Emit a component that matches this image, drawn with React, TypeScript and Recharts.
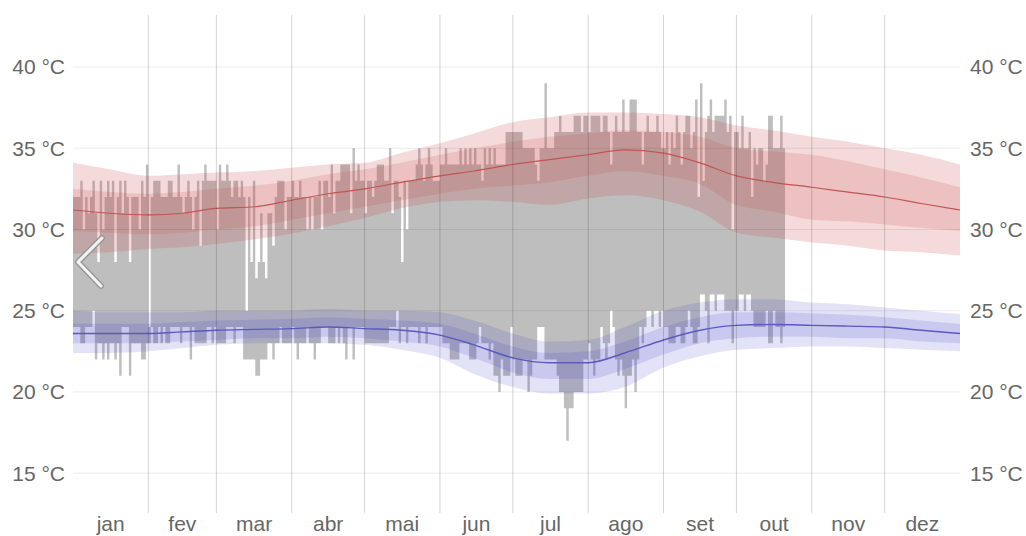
import React from 'react';
import { Area, ComposedChart, Line, ReferenceLine, XAxis, YAxis } from 'recharts';

const months = ['jan', 'fev', 'mar', 'abr', 'mai', 'jun', 'jul', 'ago', 'set', 'out', 'nov', 'dez'];
const monthMid = [15.5, 45, 74.5, 105, 135.5, 166, 196.5, 227.5, 258, 288.5, 319, 349.5];
const monthStarts = [31, 59, 90, 120, 151, 181, 212, 243, 273, 304, 334];
const tempTicks = [15, 20, 25, 30, 35, 40];

// daily observed high / low (°C), from 1 jan
const dailyHigh = [
  32, 32, 32, 33, 30, 32, 31, 32, 33, 31,
  28, 33, 30, 32, 33, 32, 33, 28, 32, 33,
  31, 33, 32, 28, 32, 32, 32, 30, 33, 32,
  34, 24, 32, 33, 33, 33, 32, 32, 32, 33,
  33, 32, 32, 34, 32, 31, 32, 33, 32, 30,
  32, 33, 29, 33, 34, 33, 33, 33, 33, 30,
  34, 33, 33, 34, 33, 32, 33, 33, 32, 33,
  32, 25, 32, 28, 33, 27, 28, 31, 28, 27,
  31, 31, 29, 32, 33, 33, 33, 30, 32, 32,
  33, 32, 32, 33, 32, 32, 30, 32, 30, 32,
  32, 33, 30, 33, 33, 32, 34, 31, 33, 33,
  34, 34, 34, 34, 31, 35, 33, 34, 33, 33,
  31, 33, 33, 32, 33, 34, 34, 34, 33, 33,
  35, 31, 33, 33, 32, 28, 33, 30, 33, 33,
  33, 34, 35, 34, 33, 34, 35, 34, 33, 33,
  33, 34, 34, 35, 34, 34, 34, 34, 34, 35,
  34, 35, 34, 35, 34, 35, 34, 34, 33, 35,
  34, 35, 34, 35, 34, 34, 34, 34, 36, 36,
  36, 36, 36, 36, 36, 35, 35, 35, 35, 35,
  34, 33, 35, 35, 39, 35, 35, 35, 36, 36,
  37, 36, 36, 36, 36, 36, 37, 37, 37, 36,
  37, 37, 36, 37, 37, 37, 37, 36, 37, 37,
  36, 34, 36, 37, 36, 36, 38, 36, 36, 38,
  38, 38, 36, 36, 34, 36, 37, 36, 36, 36,
  37, 36, 35, 35, 36, 34, 36, 35, 37, 36,
  34, 36, 37, 37, 35, 36, 38, 32, 39, 33,
  36, 37, 38, 36, 37, 37, 37, 37, 38, 36,
  37, 30, 36, 36, 35, 37, 35, 35, 36, 32,
  35, 34, 35, 35, 33, 34, 37, 37, 35, 35,
  35, 37, 35,
];

const dailyLow = [
  24, 24, 24, 23, 23, 24, 24, 24, 25, 22,
  23, 23, 22, 23, 22, 23, 23, 22, 23, 21,
  24, 24, 24, 21, 23, 23, 23, 23, 22, 22,
  23, 23, 24, 23, 23, 24, 23, 24, 23, 23,
  24, 24, 24, 24, 23, 24, 24, 24, 22, 24,
  23, 23, 23, 23, 23, 24, 24, 23, 24, 23,
  23, 23, 23, 24, 24, 24, 23, 24, 24, 24,
  22, 22, 22, 22, 22, 21, 21, 22, 22, 22,
  23, 23, 22, 23, 23, 24, 23, 23, 23, 23,
  24, 23, 22, 23, 23, 23, 24, 23, 23, 22,
  23, 23, 24, 24, 24, 23, 23, 23, 24, 23,
  24, 23, 22, 24, 24, 22, 24, 24, 24, 24,
  23, 23, 23, 23, 23, 23, 23, 23, 23, 23,
  24, 24, 24, 25, 23, 24, 24, 23, 24, 24,
  24, 24, 23, 24, 24, 23, 24, 24, 24, 24,
  24, 24, 23, 23, 23, 22, 22, 22, 22, 23,
  23, 23, 23, 22, 22, 22, 23, 24, 23, 23,
  23, 22, 23, 21, 21, 20, 22, 21, 21, 21,
  24, 22, 21, 21, 21, 22, 22, 20, 21, 22,
  22, 24, 24, 24, 22, 22, 22, 22, 22, 21,
  20, 20, 19, 17, 19, 19, 20, 20, 20, 20,
  22, 22, 23, 22, 21, 22, 22, 24, 23, 22,
  23, 25, 24, 22, 21, 22, 21, 19, 21, 21,
  22, 20, 22, 24, 23, 24, 25, 25, 24, 25,
  25, 24, 25, 24, 24, 23, 23, 23, 24, 24,
  23, 23, 24, 25, 24, 23, 23, 24, 26, 26,
  25, 23, 26, 26, 25, 26, 26, 26, 25, 25,
  25, 23, 25, 25, 26, 26, 25, 26, 26, 25,
  24, 24, 24, 24, 24, 25, 23, 23, 25, 24,
  24, 23, 24,
];

// climatology bands, sampled through the year
const bandDays = [0, 15, 31, 45, 59, 75, 90, 105, 120, 135, 151, 165, 181, 196, 212, 227, 243, 258, 273, 288, 304, 319, 334, 349, 365];
const hiP90 = [34.1, 33.7, 33.3, 33.4, 33.5, 33.6, 33.8, 34.0, 34.1, 34.7, 35.3, 35.9, 36.6, 36.9, 37.2, 37.2, 37.1, 36.9, 36.4, 36.1, 35.7, 35.4, 35.0, 34.6, 34.0];
const hiP75 = [32.5, 32.3, 32.2, 32.3, 32.5, 32.7, 33.0, 33.4, 33.7, 34.1, 34.6, 35.0, 35.4, 35.7, 35.9, 36.1, 36.0, 35.7, 35.0, 34.8, 34.6, 34.2, 33.7, 33.2, 32.6];
const hiMean = [31.2, 31.0, 30.9, 31.0, 31.3, 31.4, 31.8, 32.2, 32.5, 32.9, 33.3, 33.6, 34.0, 34.3, 34.6, 34.9, 34.7, 34.1, 33.3, 32.9, 32.6, 32.3, 32.0, 31.6, 31.2];
const hiP25 = [29.9, 29.8, 29.7, 29.8, 30.0, 30.2, 30.6, 31.0, 31.4, 31.8, 32.2, 32.5, 32.7, 32.9, 33.3, 33.6, 33.3, 32.8, 31.5, 31.1, 30.6, 30.5, 30.3, 30.1, 29.9];
const hiP10 = [28.5, 28.6, 28.8, 28.9, 29.1, 29.4, 29.75, 30.2, 30.7, 31.3, 31.7, 31.8, 31.7, 31.5, 31.9, 32.1, 31.8, 31.1, 29.8, 29.5, 29.2, 29.0, 28.7, 28.6, 28.4];
const loP90 = [25.0, 24.9, 24.9, 24.9, 25.0, 25.0, 25.0, 25.1, 25.0, 25.0, 24.9, 24.4, 23.6, 23.1, 23.2, 24.0, 25.0, 25.5, 25.7, 25.7, 25.5, 25.4, 25.2, 25.0, 24.8];
const loP75 = [24.2, 24.2, 24.2, 24.3, 24.4, 24.45, 24.5, 24.6, 24.5, 24.4, 24.2, 23.6, 22.8, 22.4, 22.5, 23.1, 24.0, 24.6, 24.9, 24.9, 24.85, 24.75, 24.6, 24.4, 24.2];
const loMean = [23.6, 23.6, 23.6, 23.7, 23.8, 23.85, 23.9, 24.0, 23.9, 23.8, 23.5, 22.9, 22.1, 21.8, 21.8, 22.4, 23.2, 23.8, 24.1, 24.15, 24.1, 24.05, 24.0, 23.8, 23.6];
const loP25 = [23.0, 23.0, 23.0, 23.1, 23.2, 23.3, 23.3, 23.4, 23.3, 23.1, 22.8, 22.1, 21.2, 20.8, 20.8, 21.4, 22.3, 23.0, 23.3, 23.4, 23.4, 23.3, 23.3, 23.1, 23.0];
const loP10 = [22.4, 22.4, 22.5, 22.7, 22.9, 23.0, 23.0, 23.0, 22.9, 22.6, 22.1, 21.1, 20.3, 19.9, 19.9, 20.3, 21.5, 22.2, 22.6, 22.7, 22.8, 22.8, 22.7, 22.6, 22.5];

type Row = { day: number; [k: string]: any };

const data: Row[] = [];
for (let day = 0; day <= 365; day++) {
  const row: Row = { day };
  // step area needs a closing point at the end of the last observed day
  const i = Math.min(day, dailyHigh.length - 1);
  if (day <= dailyHigh.length) row.obs = [dailyLow[i], dailyHigh[i]];
  const b = bandDays.indexOf(day);
  if (b >= 0) {
    row.hiOuter = [hiP10[b], hiP90[b]];
    row.hiInner = [hiP25[b], hiP75[b]];
    row.hiMean = hiMean[b];
    row.loOuter = [loP10[b], loP90[b]];
    row.loInner = [loP25[b], loP75[b]];
    row.loMean = loMean[b];
  }
  data.push(row);
}

const font = '"Liberation Sans", Arial, sans-serif';
const tickStyle = { fontSize: 21, fill: '#666', fontFamily: font };
const fmtTemp = (v: number) => `${v} °C`;
const fmtMonth = (v: number) => months[monthMid.indexOf(v)] ?? '';

const App = () => {
  return (
    <div style={{ position: 'absolute', left: 0, top: 0, width: 1026, height: 536, background: '#fff' }}>
      <ComposedChart width={1026} height={536} data={data} margin={{ top: 15, right: 0, bottom: 0, left: 0 }}>
        <XAxis
          dataKey="day"
          type="number"
          domain={[0, 365]}
          ticks={monthMid}
          interval={0}
          tickFormatter={fmtMonth}
          axisLine={false}
          tickLine={false}
          tickSize={0}
          tickMargin={3}
          height={23}
          tick={tickStyle}
        />
        <YAxis
          yAxisId="left"
          domain={[12.55, 43.2]}
          ticks={tempTicks}
          allowDataOverflow
          tickFormatter={fmtTemp}
          axisLine={false}
          tickLine={false}
          tickSize={0}
          tickMargin={8}
          width={73}
          tick={tickStyle}
        />
        <YAxis
          yAxisId="right"
          orientation="right"
          domain={[12.55, 43.2]}
          ticks={tempTicks}
          allowDataOverflow
          tickFormatter={fmtTemp}
          axisLine={false}
          tickLine={false}
          tickSize={0}
          tickMargin={10}
          width={66}
          tick={{ ...tickStyle, textAnchor: 'start' }}
        />
        <Area yAxisId="left" dataKey="obs" type="stepAfter" stroke="none" fill="#000" fillOpacity={0.255} isAnimationActive={false} />
        <Area yAxisId="left" dataKey="hiOuter" type="monotone" connectNulls stroke="none" fill="#c84646" fillOpacity={0.2} isAnimationActive={false} />
        <Area yAxisId="left" dataKey="hiInner" type="monotone" connectNulls stroke="none" fill="#c84646" fillOpacity={0.17} isAnimationActive={false} />
        <Line yAxisId="left" dataKey="hiMean" type="monotone" connectNulls stroke="#c05555" strokeWidth={1.2} dot={false} activeDot={false} isAnimationActive={false} />
        <Area yAxisId="left" dataKey="loOuter" type="monotone" connectNulls stroke="none" fill="#4646c8" fillOpacity={0.15} isAnimationActive={false} />
        <Area yAxisId="left" dataKey="loInner" type="monotone" connectNulls stroke="none" fill="#4646c8" fillOpacity={0.16} isAnimationActive={false} />
        <Line yAxisId="left" dataKey="loMean" type="monotone" connectNulls stroke="#5a5abf" strokeWidth={1.4} dot={false} activeDot={false} isAnimationActive={false} />
        {tempTicks.map((t) => (
          <ReferenceLine key={'h' + t} y={t} yAxisId="left" stroke="#000" strokeOpacity={0.08} strokeWidth={1} />
        ))}
        {monthStarts.map((d) => (
          <ReferenceLine key={d} x={d} yAxisId="left" stroke="#000" strokeOpacity={0.17} strokeWidth={1} />
        ))}
      </ComposedChart>
      <svg width={40} height={60} style={{ position: 'absolute', left: 70, top: 232 }}>
        <polyline points="32,6 8,30 31,54" fill="none" stroke="#999" strokeWidth={6} strokeLinecap="round" strokeLinejoin="round" />
        <polyline points="32,6 8,30 31,54" fill="none" stroke="#f4f4f4" strokeWidth={3} strokeLinecap="round" strokeLinejoin="round" />
      </svg>
    </div>
  );
};

export default App;
